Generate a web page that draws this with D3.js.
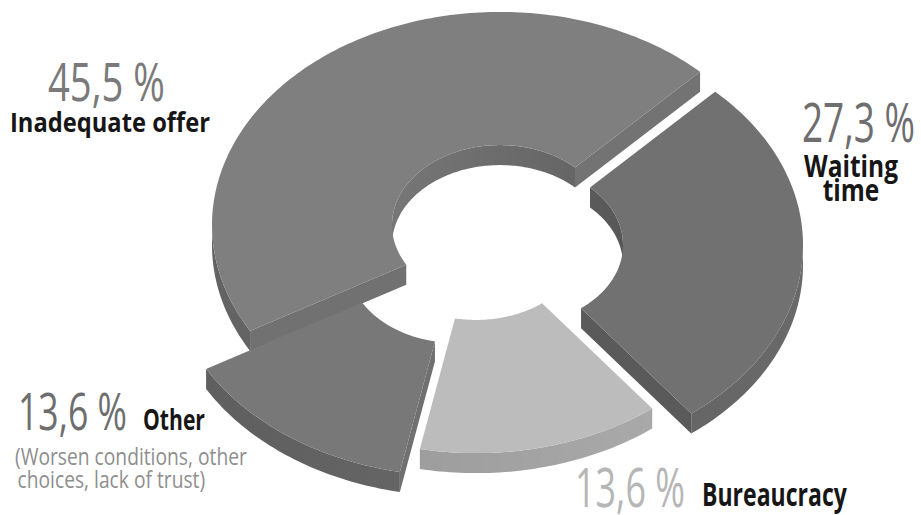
<!DOCTYPE html>
<html><head><meta charset="utf-8">
<script src="https://cdn.jsdelivr.net/npm/d3@7"></script>
<style>body{margin:0;background:#fff}svg{display:block}</style>
</head><body>
<svg id="c" width="921" height="515"></svg>
<script>
// ---------- data ----------
const categories = ["Waiting time", "Bureaucracy", "Other", "Inadequate offer"];
const values = [27.3, 13.6, 13.6, 45.5];
const percentLabels = ["27,3 %", "13,6 %", "13,6 %", "45,5 %"];
const nameLines = [["Waiting", "time"], ["Bureaucracy"], ["Other"], ["Inadequate offer"]];
const noteLines = [[], [], ["(Worsen conditions, other", "choices, lack of trust)"], []];

// ---------- style / layout ----------
const topColors = ["#717171", "#bcbcbc", "#787878", "#7f7f7f"];
const pctColors = ["#6e6e6e", "#b6b6b6", "#6e6e6e", "#7a7a7a"];
const sliceShift = [[25, 5], [-14, 0], [-34, 23], [10, -15]];
const FONT = "'Open Sans','Noto Sans',sans-serif";

const svg = d3.select("#c");
const defs = svg.append("defs");
const cx = 490, cy = 240, R = 288, r = 108, k = 0.74, depth = 20;
const start = 44 * Math.PI / 180;

const pie = d3.pie().sort(null).value(d => d).startAngle(start).endAngle(start + 2 * Math.PI);
const arcs = pie(values);

const px = d3.scaleLinear().domain([-1, 1]).range([-R, R]);
const py = d3.scaleLinear().domain([-1, 1]).range([-k * R, k * R]);
function P(i, rad, th, z) {
  return [cx + sliceShift[i][0] + px(rad / R * Math.cos(th)),
          cy + sliceShift[i][1] + py(rad / R * Math.sin(th)) + z];
}
const poly = d3.line().curve(d3.curveLinearClosed);
const shade = (base, phi) => d3.color(base).darker(0.45 - 0.25 * Math.cos(phi)).formatHex();

const slices = arcs.map((a, i) => {
  const t0 = a.startAngle - Math.PI / 2, t1 = a.endAngle - Math.PI / 2;
  return {i, t0, t1, mid: (t0 + t1) / 2};
});
slices.sort((a, b) => Math.sin(a.mid) - Math.sin(b.mid));

let gid = 0;
function wall(sg, i, rad, ths, normalOffset, base) {
  if (ths.length < 2) return;
  const topPts = ths.map(t => P(i, rad, t, 0));
  const botPts = ths.slice().reverse().map(t => P(i, rad, t, depth));
  const xsv = topPts.map(p => p[0]);
  const x0 = d3.min(xsv), x1 = d3.max(xsv);
  const id = "gw" + (gid++);
  const grad = defs.append("linearGradient").attr("id", id).attr("gradientUnits", "userSpaceOnUse")
    .attr("x1", x0).attr("x2", x1 > x0 ? x1 : x0 + 1).attr("y1", 0).attr("y2", 0);
  const stops = ths.map((t, j) => ({o: (xsv[j] - x0) / Math.max(1e-6, x1 - x0), c: shade(base, t + normalOffset)}))
    .sort((a, b) => a.o - b.o);
  stops.forEach(s => grad.append("stop").attr("offset", s.o).attr("stop-color", s.c));
  sg.append("path").attr("d", poly(topPts.concat(botPts))).attr("fill", `url(#${id})`);
}

const g = svg.append("g");
slices.forEach(s => {
  const i = s.i, base = topColors[i];
  const n = Math.max(2, Math.ceil((s.t1 - s.t0) / (Math.PI / 180)));
  const th = d3.range(n + 1).map(j => s.t0 + (s.t1 - s.t0) * j / n);
  const sg = g.append("g").attr("class", "slice");
  wall(sg, i, r, th.filter(t => Math.sin(t) <= 0.01), Math.PI, base);
  [[s.t0, s.t0 - Math.PI / 2], [s.t1, s.t1 + Math.PI / 2]].forEach(([t, nrm]) => {
    if (Math.sin(nrm) <= 0) return;
    const c = shade(base, nrm);
    sg.append("path")
      .attr("d", poly([P(i, r, t, 0), P(i, R, t, 0), P(i, R, t, depth), P(i, r, t, depth)]))
      .attr("fill", c);
  });
  wall(sg, i, R, th.filter(t => Math.sin(t) >= -0.01), 0, base);
  const pts = th.map(t => P(i, R, t, 0)).concat(th.slice().reverse().map(t => P(i, r, t, 0)));
  sg.append("path").attr("d", poly(pts)).attr("fill", base);
});

// ---------- labels ----------
// each block: [x, baseline y, target width of widest line, font size, line step]
const labelLayout = [
  {pct: [802, 142, 113, 54], name: [851, 177, 94, 30, 24, "middle"]},
  {pct: [575, 507, 110, 54], name: [702, 506, 145, 32, 0, "start"]},
  {pct: [18, 430, 109, 52], name: [143, 430, 62, 28, 0, "start"],
   note: [15, 465, 232, 23, 23]},
  {pct: [48, 101, 117, 53], name: [10, 132, 200, 27, 0, "start"]}
];
const tg = svg.append("g").attr("font-family", FONT);
function block(lines, spec, anchor, styleFn) {
  const [x, y, w, size, step] = spec;
  const gg = tg.append("g").attr("transform", `translate(${x},${y})`);
  const t = gg.append("text").attr("font-size", size).attr("text-anchor", anchor);
  styleFn(t);
  lines.forEach((ln, j) => {
    t.append("tspan").attr("x", j === 0 ? 0 : (anchor === "start" ? 3 : 0)).attr("dy", j === 0 ? 0 : step).text(ln);
  });
  const nat = d3.max(t.selectAll("tspan").nodes(), n => n.getComputedTextLength());
  t.attr("transform", `scale(${w / nat},1)`);
  return t;
}
categories.forEach((cat, i) => {
  const L = labelLayout[i];
  block([percentLabels[i]], [...L.pct, 0], "start", t => t.attr("fill", pctColors[i]));
  block(nameLines[i], L.name.slice(0, 5), L.name[5], t => t.attr("font-weight", 700).attr("fill", "#161616"));
  if (noteLines[i].length) block(noteLines[i], L.note, "start", t => t.attr("fill", "#8e8e8e"));
});
</script>
</body></html>
